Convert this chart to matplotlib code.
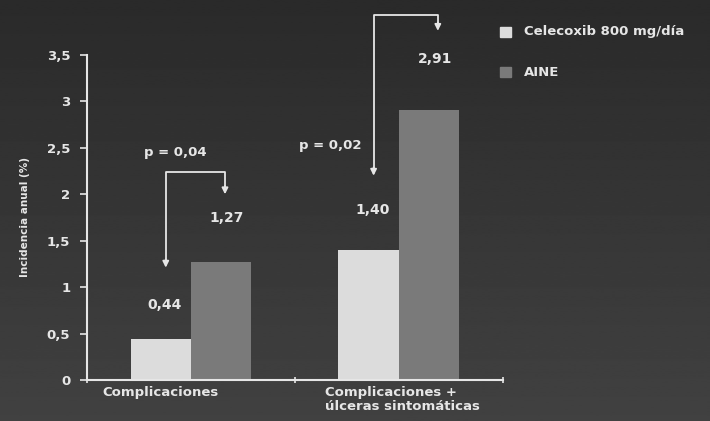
import numpy as np
import matplotlib.pyplot as plt
from matplotlib.patches import Rectangle

categories = ['Complicaciones', 'Complicaciones +\núlceras sintomáticas']
celecoxib = [0.44, 1.40]
aine = [1.27, 2.91]
celecoxib_labels = ['0,44', '1,40']
aine_labels = ['1,27', '2,91']
p_labels = ['p = 0,04', 'p = 0,02']
yticks = [0, 0.5, 1, 1.5, 2, 2.5, 3, 3.5]
ytick_labels = ['0', '0,5', '1', '1,5', '2', '2,5', '3', '3,5']
series_names = ['Celecoxib 800 mg/día', 'AINE']

fg = '#e6e6e6'
light = '#dcdcdc'
dark = '#7a7a7a'

fig = plt.figure(figsize=(7.1, 4.21), dpi=100)

# background gradient (darker at top)
bgax = fig.add_axes([0, 0, 1, 1], zorder=-1)
grad = np.linspace(0.165, 0.255, 256).reshape(-1, 1)
bgax.imshow(grad, aspect='auto', cmap='gray', vmin=0, vmax=1,
            extent=[0, 1, 0, 1], origin='upper')
bgax.axis('off')

ax = fig.add_axes([0.1225, 0.0974, 0.5855, 0.772])
ax.patch.set_alpha(0)

x = np.arange(len(categories))
w = 0.29
ax.bar(x - 0.145, celecoxib, w, color=light)
ax.bar(x + 0.145, aine, w, color=dark)

ax.set_xlim(-0.5, 1.5)
ax.set_ylim(0, 3.5)
ax.set_yticks(yticks)
ax.set_yticklabels(ytick_labels, color=fg, fontsize=9.5, fontweight='bold')
ax.set_xticks([-0.5, 0.5, 1.5])
ax.set_xticklabels([])
ax.tick_params(axis='both', colors=fg, length=5, width=1.2, pad=7)
ax.tick_params(axis='x', direction='inout')
ax.text(-0.425, -0.07, categories[0], ha='left', va='top', color=fg,
        fontsize=9.5, fontweight='bold')
ax.text(0.647, -0.07, categories[1], ha='left', va='top', color=fg,
        fontsize=9.5, fontweight='bold', linespacing=1.05)
for s in ['top', 'right']:
    ax.spines[s].set_visible(False)
for s in ['left', 'bottom']:
    ax.spines[s].set_color(fg)
    ax.spines[s].set_linewidth(1.5)
ax.set_ylabel('Incidencia anual (%)', color=fg, fontsize=7.5, fontweight='bold',
              labelpad=12)

def label(xv, yv, s, size=10):
    ax.text(xv, yv, s, ha='center', va='center', color=fg, fontsize=size,
            fontweight='bold', clip_on=False)

# value labels
label(-0.126, 0.81, celecoxib_labels[0])
label(0.874, 1.83, celecoxib_labels[1])
label(0.174, 1.74, aine_labels[0])
label(1.174, 3.46, aine_labels[1])

# brackets with arrows
def bracket(x0, y0, ytop, x1, y1):
    ax.plot([x0, x0, x1, x1], [y0 + 0.1, ytop, ytop, y1 + 0.1], color=fg,
            lw=1.3, clip_on=False)
    for xa, ya in [(x0, y0), (x1, y1)]:
        ax.annotate('', xy=(xa, ya), xytext=(xa, ya + 0.15),
                    arrowprops=dict(arrowstyle='-|>', color=fg, lw=1.3,
                                    mutation_scale=9), annotation_clip=False)

bracket(-0.121, 1.18, 2.24, 0.164, 1.97)
bracket(0.879, 2.17, 3.93, 1.188, 3.73)

label(-0.077, 2.45, p_labels[0], 9.5)
label(0.671, 2.53, p_labels[1], 9.5)

# legend
for name, col, ypx in zip(series_names, [light, dark], [32, 72]):
    yf = 1 - ypx / 421
    fig.patches.append(Rectangle((500 / 710, yf - 0.012), 0.016, 0.024,
                                 transform=fig.transFigure, color=col))
    fig.text(524 / 710, yf, name, color=fg, fontsize=9.5, fontweight='bold',
             va='center', ha='left')

fig.savefig('out.png', dpi=100)
